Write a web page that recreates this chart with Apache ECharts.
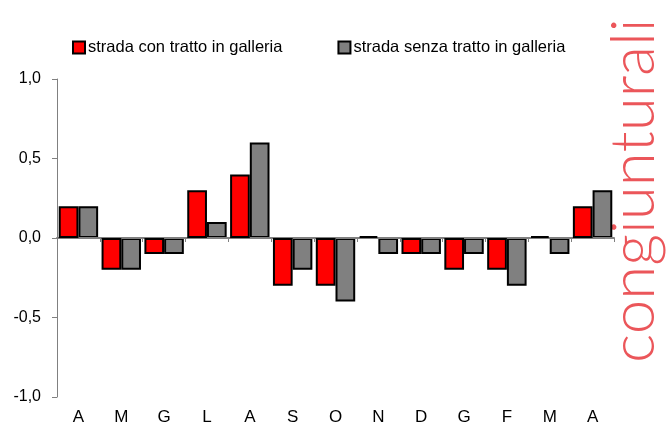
<!DOCTYPE html>
<html>
<head>
<meta charset="utf-8">
<script src="https://cdn.jsdelivr.net/npm/echarts@6/dist/echarts.min.js"></script>
<style>
  html, body { margin: 0; padding: 0; background: #fff; }
  #main { width: 670px; height: 428px; }
</style>
</head>
<body>
<div id="main"></div>
<script>
// mesi (da aprile ad aprile)
var months = ['A', 'M', 'G', 'L', 'A', 'S', 'O', 'N', 'D', 'G', 'F', 'M', 'A'];
var conGalleria = [0.2, -0.2, -0.1, 0.3, 0.4, -0.3, -0.3, 0.0, -0.1, -0.2, -0.2, 0.0, 0.2];
var senzaGalleria = [0.2, -0.2, -0.1, 0.1, 0.6, -0.2, -0.4, -0.1, -0.1, -0.1, -0.3, -0.1, 0.3];
var yTicks = [-1, -0.5, 0, 0.5, 1];

var myChart = echarts.init(document.getElementById('main'));

var option = {
    animation: false,
    textStyle: {fontFamily: 'Liberation Sans, Arial, sans-serif'},
    grid: {left: 57, right: 56, top: 79, bottom: 31},
    legend: {
        top: 34,
        left: 67,
        itemWidth: 12,
        itemHeight: 12,
        itemGap: 55,
        icon: 'rect',
        textStyle: {fontSize: 16.5, color: '#000', padding: [0, 0, 0, -2]},
        data: ['strada con tratto in galleria', 'strada senza tratto in galleria']
    },
    xAxis: [{
        type: 'category',
        data: months,
        z: 3,
        axisLine: {onZero: true, lineStyle: {color: '#808080', width: 2}},
        axisTick: {show: true, length: 4, lineStyle: {color: '#808080'}},
        axisLabel: {show: false}
    }, {
        type: 'category',
        data: months,
        position: 'bottom',
        axisLine: {show: false, onZero: false},
        axisTick: {show: false},
        axisLabel: {fontSize: 17, color: '#000', margin: 12}
    }],
    yAxis: {
        type: 'value',
        min: yTicks[0],
        max: yTicks[yTicks.length - 1],
        interval: 0.5,
        splitLine: {show: false},
        axisLine: {show: true, lineStyle: {color: '#808080'}},
        axisTick: {show: true, length: 5, lineStyle: {color: '#808080'}},
        axisLabel: {
            fontSize: 16,
            color: '#000',
            margin: 16,
            formatter: function (v) {
                return v.toFixed(1).replace('.', ',');
            }
        }
    },
    series: [{
        name: 'strada con tratto in galleria',
        type: 'bar',
        data: conGalleria,
        barGap: '0%',
        barCategoryGap: '8%',
        barMinHeight: 2,
        z: 4,
        itemStyle: {color: '#ff0000', borderColor: '#000', borderWidth: 2}
    }, {
        name: 'strada senza tratto in galleria',
        type: 'bar',
        data: senzaGalleria,
        itemStyle: {color: '#808080', borderColor: '#000', borderWidth: 2}
    }],
    graphic: [{
        type: 'text',
        x: 665,
        y: 363,
        rotation: Math.PI / 2,
        style: {
            text: 'congiunturali',
            fontFamily: 'Lato, sans-serif',
            fontWeight: 300,
            fontSize: 62,
            fill: '#e8383d',
            opacity: 0.85,
            align: 'left',
            verticalAlign: 'bottom'
        }
    }]
};
myChart.setOption(option);
</script>
</body>
</html>
